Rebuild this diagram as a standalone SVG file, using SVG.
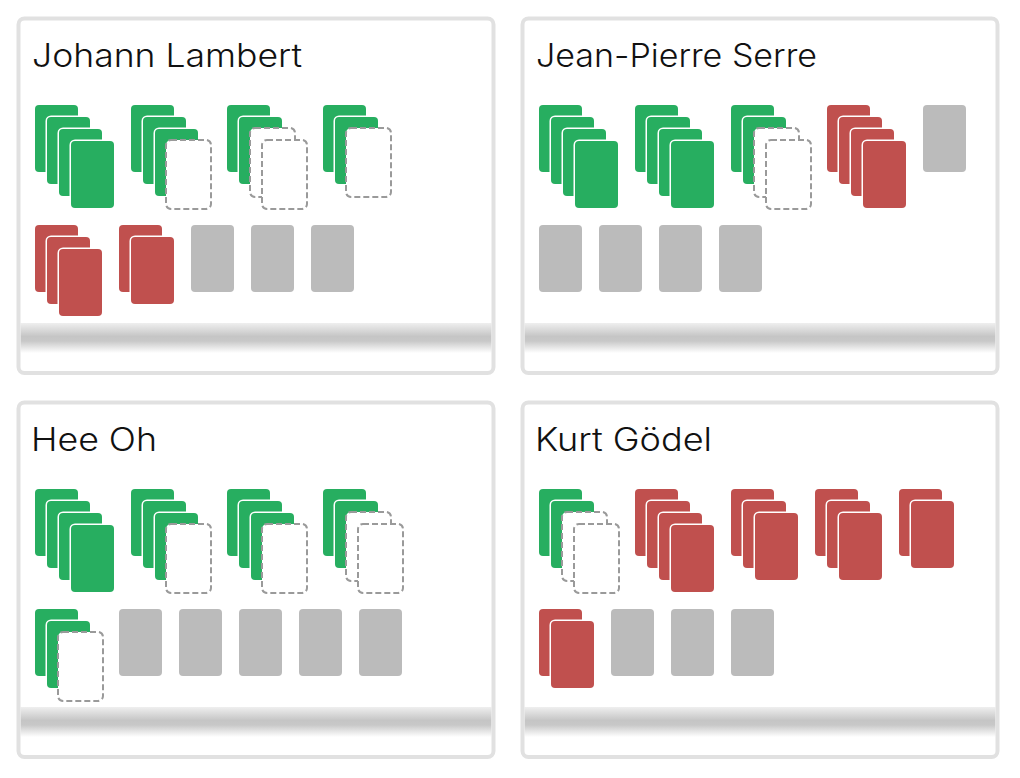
<svg xmlns="http://www.w3.org/2000/svg" width="1020" height="778" viewBox="0 0 1020 778">
<style>
.bg{fill:#fff}
.frame{fill:none;stroke:#e1e1e1;stroke-width:4}
.bar{fill:url(#barGrad)}
.title{font-family:Inter,"Liberation Sans",sans-serif;font-weight:300;font-size:32px;fill:#111}
.g{fill:#27ae60;stroke:#fff;stroke-width:3;paint-order:stroke}
.r{fill:#c0504e;stroke:#fff;stroke-width:3;paint-order:stroke}
.e{fill:#bbbbbb}
.d{fill:#fff;stroke:#9a9a9a;stroke-width:2;stroke-dasharray:6 3}
</style>
<defs>
<linearGradient id="barGrad" x1="0" y1="0" x2="0" y2="1">
<stop offset="0" stop-color="#efefef"/>
<stop offset="0.45" stop-color="#c5c5c5"/>
<stop offset="0.6" stop-color="#c8c8c8"/>
<stop offset="1" stop-color="#ffffff"/>
</linearGradient>
</defs>
<g id="connectors"/>

<g id="panel-johann-lambert">
<rect class="bg" x="18.5" y="18.5" width="475" height="354.5" rx="6"/>
<rect class="bar" x="20.5" y="323" width="471" height="30"/>
<rect class="frame" x="18.5" y="18.5" width="475" height="354.5" rx="6"/>
<text class="title" x="32" y="67" textLength="270" lengthAdjust="spacingAndGlyphs">Johann Lambert</text>
<rect class="g" x="35" y="105" width="43" height="67" rx="4"/>
<rect class="g" x="47" y="117" width="43" height="67" rx="4"/>
<rect class="g" x="59" y="129" width="43" height="67" rx="4"/>
<rect class="g" x="71" y="141" width="43" height="67" rx="4"/>
<rect class="g" x="131" y="105" width="43" height="67" rx="4"/>
<rect class="g" x="143" y="117" width="43" height="67" rx="4"/>
<rect class="g" x="155" y="129" width="43" height="67" rx="4"/>
<rect class="d" x="166" y="140" width="45" height="69" rx="5"/>
<rect class="g" x="227" y="105" width="43" height="67" rx="4"/>
<rect class="g" x="239" y="117" width="43" height="67" rx="4"/>
<rect class="d" x="250" y="128" width="45" height="69" rx="5"/>
<rect class="d" x="262" y="140" width="45" height="69" rx="5"/>
<rect class="g" x="323" y="105" width="43" height="67" rx="4"/>
<rect class="g" x="335" y="117" width="43" height="67" rx="4"/>
<rect class="d" x="346" y="128" width="45" height="69" rx="5"/>
<rect class="r" x="35" y="225" width="43" height="67" rx="4"/>
<rect class="r" x="47" y="237" width="43" height="67" rx="4"/>
<rect class="r" x="59" y="249" width="43" height="67" rx="4"/>
<rect class="r" x="119" y="225" width="43" height="67" rx="4"/>
<rect class="r" x="131" y="237" width="43" height="67" rx="4"/>
<rect class="e" x="191" y="225" width="43" height="67" rx="4"/>
<rect class="e" x="251" y="225" width="43" height="67" rx="4"/>
<rect class="e" x="311" y="225" width="43" height="67" rx="4"/>
</g>

<g id="panel-jean-pierre-serre">
<rect class="bg" x="522.5" y="18.5" width="475" height="354.5" rx="6"/>
<rect class="bar" x="524.5" y="323" width="471" height="30"/>
<rect class="frame" x="522.5" y="18.5" width="475" height="354.5" rx="6"/>
<text class="title" x="536" y="67" textLength="281" lengthAdjust="spacingAndGlyphs">Jean-Pierre Serre</text>
<rect class="g" x="539" y="105" width="43" height="67" rx="4"/>
<rect class="g" x="551" y="117" width="43" height="67" rx="4"/>
<rect class="g" x="563" y="129" width="43" height="67" rx="4"/>
<rect class="g" x="575" y="141" width="43" height="67" rx="4"/>
<rect class="g" x="635" y="105" width="43" height="67" rx="4"/>
<rect class="g" x="647" y="117" width="43" height="67" rx="4"/>
<rect class="g" x="659" y="129" width="43" height="67" rx="4"/>
<rect class="g" x="671" y="141" width="43" height="67" rx="4"/>
<rect class="g" x="731" y="105" width="43" height="67" rx="4"/>
<rect class="g" x="743" y="117" width="43" height="67" rx="4"/>
<rect class="d" x="754" y="128" width="45" height="69" rx="5"/>
<rect class="d" x="766" y="140" width="45" height="69" rx="5"/>
<rect class="r" x="827" y="105" width="43" height="67" rx="4"/>
<rect class="r" x="839" y="117" width="43" height="67" rx="4"/>
<rect class="r" x="851" y="129" width="43" height="67" rx="4"/>
<rect class="r" x="863" y="141" width="43" height="67" rx="4"/>
<rect class="e" x="923" y="105" width="43" height="67" rx="4"/>
<rect class="e" x="539" y="225" width="43" height="67" rx="4"/>
<rect class="e" x="599" y="225" width="43" height="67" rx="4"/>
<rect class="e" x="659" y="225" width="43" height="67" rx="4"/>
<rect class="e" x="719" y="225" width="43" height="67" rx="4"/>
</g>

<g id="panel-hee-oh">
<rect class="bg" x="18.5" y="402.5" width="475" height="354.5" rx="6"/>
<rect class="bar" x="20.5" y="707" width="471" height="30"/>
<rect class="frame" x="18.5" y="402.5" width="475" height="354.5" rx="6"/>
<text class="title" x="31" y="451" textLength="126" lengthAdjust="spacingAndGlyphs">Hee Oh</text>
<rect class="g" x="35" y="489" width="43" height="67" rx="4"/>
<rect class="g" x="47" y="501" width="43" height="67" rx="4"/>
<rect class="g" x="59" y="513" width="43" height="67" rx="4"/>
<rect class="g" x="71" y="525" width="43" height="67" rx="4"/>
<rect class="g" x="131" y="489" width="43" height="67" rx="4"/>
<rect class="g" x="143" y="501" width="43" height="67" rx="4"/>
<rect class="g" x="155" y="513" width="43" height="67" rx="4"/>
<rect class="d" x="166" y="524" width="45" height="69" rx="5"/>
<rect class="g" x="227" y="489" width="43" height="67" rx="4"/>
<rect class="g" x="239" y="501" width="43" height="67" rx="4"/>
<rect class="g" x="251" y="513" width="43" height="67" rx="4"/>
<rect class="d" x="262" y="524" width="45" height="69" rx="5"/>
<rect class="g" x="323" y="489" width="43" height="67" rx="4"/>
<rect class="g" x="335" y="501" width="43" height="67" rx="4"/>
<rect class="d" x="346" y="512" width="45" height="69" rx="5"/>
<rect class="d" x="358" y="524" width="45" height="69" rx="5"/>
<rect class="g" x="35" y="609" width="43" height="67" rx="4"/>
<rect class="g" x="47" y="621" width="43" height="67" rx="4"/>
<rect class="d" x="58" y="632" width="45" height="69" rx="5"/>
<rect class="e" x="119" y="609" width="43" height="67" rx="4"/>
<rect class="e" x="179" y="609" width="43" height="67" rx="4"/>
<rect class="e" x="239" y="609" width="43" height="67" rx="4"/>
<rect class="e" x="299" y="609" width="43" height="67" rx="4"/>
<rect class="e" x="359" y="609" width="43" height="67" rx="4"/>
</g>

<g id="panel-kurt-goedel">
<rect class="bg" x="522.5" y="402.5" width="475" height="354.5" rx="6"/>
<rect class="bar" x="524.5" y="707" width="471" height="30"/>
<rect class="frame" x="522.5" y="402.5" width="475" height="354.5" rx="6"/>
<text class="title" x="535" y="451" textLength="177" lengthAdjust="spacingAndGlyphs">Kurt Gödel</text>
<rect class="g" x="539" y="489" width="43" height="67" rx="4"/>
<rect class="g" x="551" y="501" width="43" height="67" rx="4"/>
<rect class="d" x="562" y="512" width="45" height="69" rx="5"/>
<rect class="d" x="574" y="524" width="45" height="69" rx="5"/>
<rect class="r" x="635" y="489" width="43" height="67" rx="4"/>
<rect class="r" x="647" y="501" width="43" height="67" rx="4"/>
<rect class="r" x="659" y="513" width="43" height="67" rx="4"/>
<rect class="r" x="671" y="525" width="43" height="67" rx="4"/>
<rect class="r" x="731" y="489" width="43" height="67" rx="4"/>
<rect class="r" x="743" y="501" width="43" height="67" rx="4"/>
<rect class="r" x="755" y="513" width="43" height="67" rx="4"/>
<rect class="r" x="815" y="489" width="43" height="67" rx="4"/>
<rect class="r" x="827" y="501" width="43" height="67" rx="4"/>
<rect class="r" x="839" y="513" width="43" height="67" rx="4"/>
<rect class="r" x="899" y="489" width="43" height="67" rx="4"/>
<rect class="r" x="911" y="501" width="43" height="67" rx="4"/>
<rect class="r" x="539" y="609" width="43" height="67" rx="4"/>
<rect class="r" x="551" y="621" width="43" height="67" rx="4"/>
<rect class="e" x="611" y="609" width="43" height="67" rx="4"/>
<rect class="e" x="671" y="609" width="43" height="67" rx="4"/>
<rect class="e" x="731" y="609" width="43" height="67" rx="4"/>
</g>
</svg>
